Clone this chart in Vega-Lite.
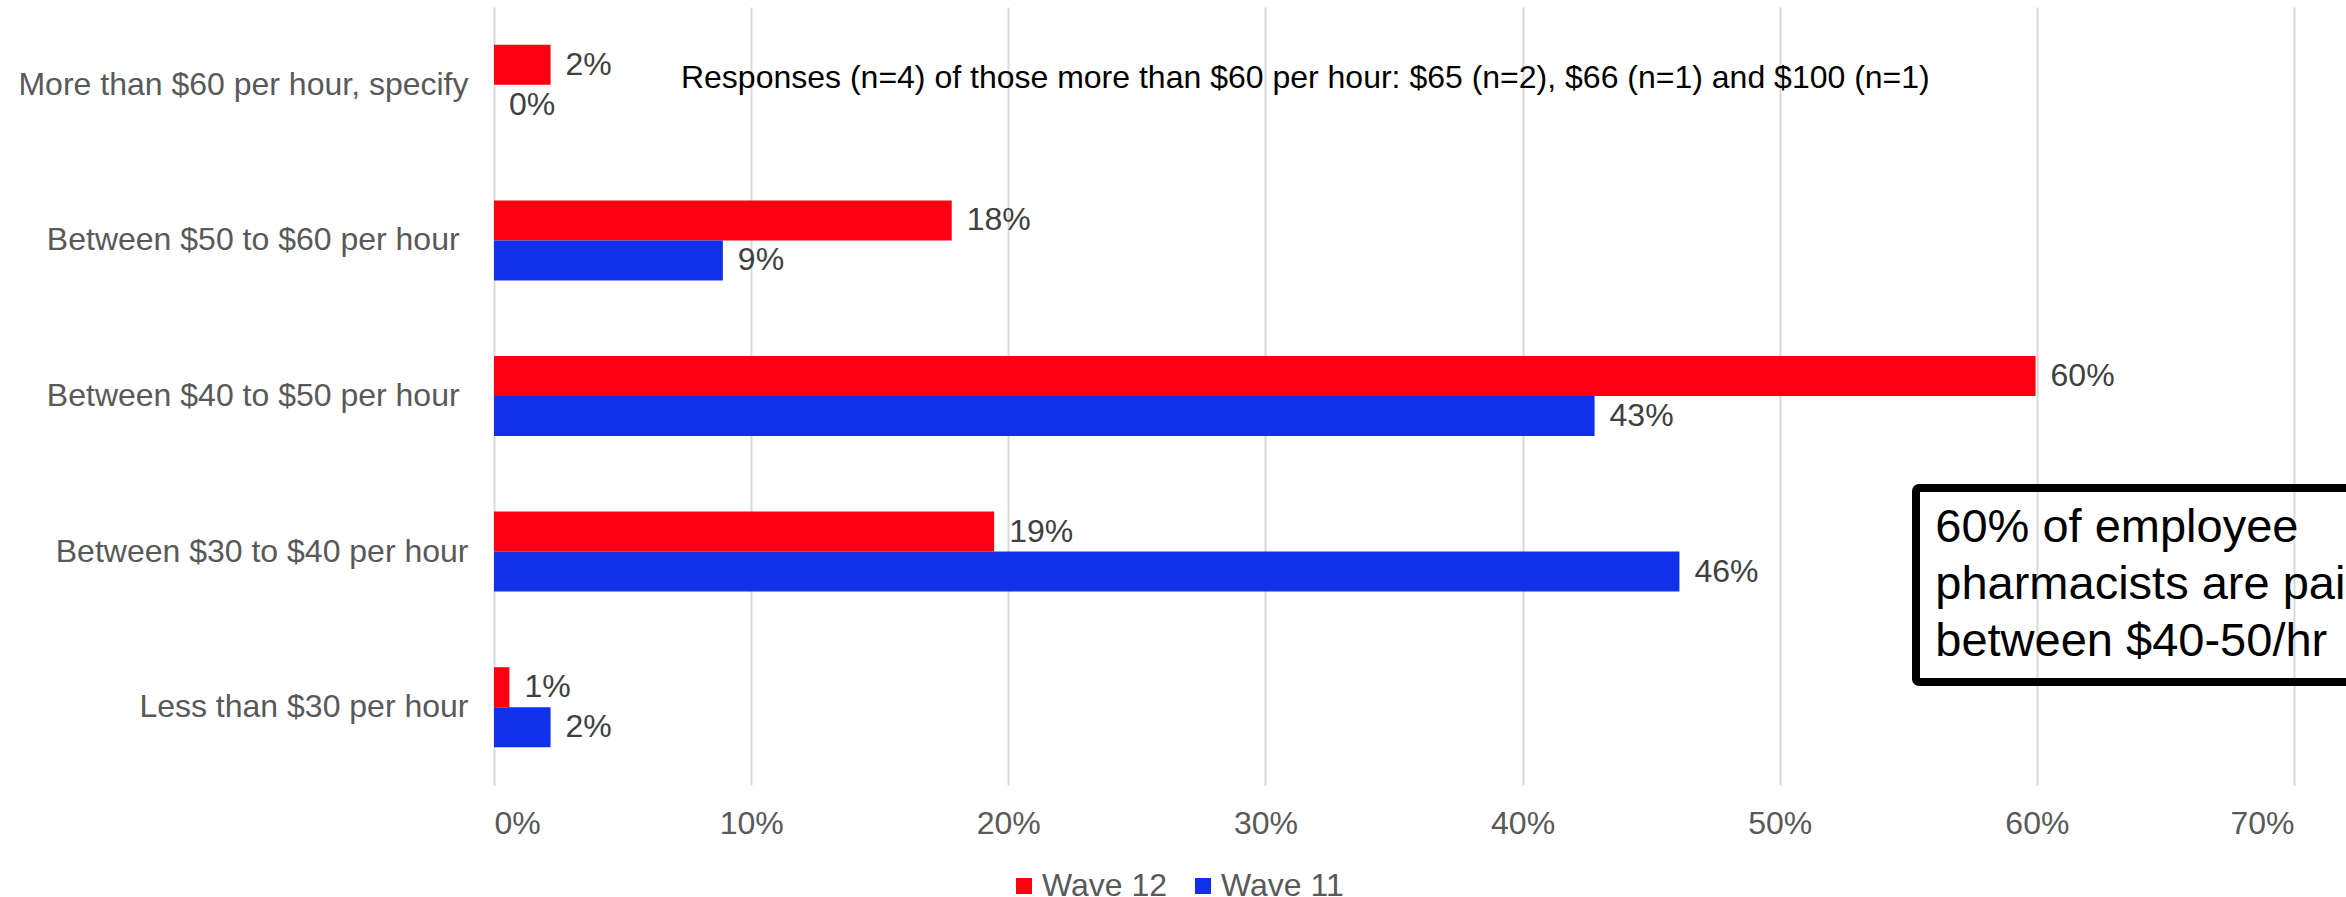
{
  "$schema": "https://vega.github.io/schema/vega-lite/v6.json",
  "width": 1800,
  "height": 778,
  "autosize": {"type": "none"},
  "padding": {"left": 494, "top": 7, "right": 52, "bottom": 112},
  "background": "white",
  "config": {"font": "Liberation Sans", "view": {"stroke": null}},
  "layer": [
    {
      "data": {
        "values": [
          {"category": "More than $60 per hour, specify", "wave": "Wave 12", "pct": 0.022},
          {"category": "More than $60 per hour, specify", "wave": "Wave 11", "pct": 0.0},
          {"category": "Between $50 to $60 per hour\u00a0\u200b", "wave": "Wave 12", "pct": 0.178},
          {"category": "Between $50 to $60 per hour\u00a0\u200b", "wave": "Wave 11", "pct": 0.089},
          {"category": "Between $40 to $50 per hour\u00a0\u200b", "wave": "Wave 12", "pct": 0.5995},
          {"category": "Between $40 to $50 per hour\u00a0\u200b", "wave": "Wave 11", "pct": 0.428},
          {"category": "Between $30 to $40 per hour", "wave": "Wave 12", "pct": 0.1945},
          {"category": "Between $30 to $40 per hour", "wave": "Wave 11", "pct": 0.461},
          {"category": "Less than $30 per hour", "wave": "Wave 12", "pct": 0.006},
          {"category": "Less than $30 per hour", "wave": "Wave 11", "pct": 0.022}
        ]
      },
      "encoding": {
        "y": {
          "field": "category",
          "type": "nominal",
          "sort": [
            "More than $60 per hour, specify",
            "Between $50 to $60 per hour\u00a0\u200b",
            "Between $40 to $50 per hour\u00a0\u200b",
            "Between $30 to $40 per hour",
            "Less than $30 per hour"
          ],
          "scale": {"paddingInner": 0.486, "paddingOuter": 0.243},
          "axis": {
            "title": null,
            "ticks": false,
            "domain": false,
            "labelFontSize": 32,
            "labelColor": "#595959",
            "labelPadding": 26,
            "labelLimit": 0
          }
        },
        "yOffset": {
          "field": "wave",
          "type": "nominal",
          "sort": ["Wave 12", "Wave 11"],
          "scale": {"paddingInner": 0, "paddingOuter": 0}
        },
        "x": {
          "field": "pct",
          "type": "quantitative",
          "scale": {"domain": [0, 0.7], "nice": false},
          "axis": {
            "title": null,
            "format": ".0%",
            "values": [0, 0.1, 0.2, 0.3, 0.4, 0.5, 0.6, 0.7],
            "grid": true,
            "gridColor": "#D9D9D9",
            "gridWidth": 2,
            "ticks": false,
            "domain": false,
            "labelFontSize": 32,
            "labelColor": "#595959",
            "labelPadding": 23
          }
        }
      },
      "layer": [
        {
          "mark": {"type": "bar"},
          "encoding": {
            "color": {
              "field": "wave",
              "type": "nominal",
              "scale": {"domain": ["Wave 12", "Wave 11"], "range": ["#FC0011", "#1030EA"]},
              "legend": {
                "orient": "none",
                "legendX": 514,
                "legendY": 863,
                "direction": "horizontal",
                "title": null,
                "symbolType": "square",
                "symbolSize": 256,
                "symbolStrokeWidth": 0,
                "labelFontSize": 32,
                "labelColor": "#595959",
                "columnPadding": 19,
                "labelOffset": 2,
                "padding": 0
              }
            }
          }
        },
        {
          "mark": {"type": "text", "align": "left", "baseline": "middle", "dx": 15, "fontSize": 32, "color": "#404040"},
          "encoding": {"text": {"field": "pct", "type": "quantitative", "format": ".0%"}}
        }
      ]
    },
    {
      "data": {"values": [{"note": "Responses (n=4) of those more than $60 per hour: $65 (n=2), $66 (n=1) and $100 (n=1)", "box": "60% of employee\npharmacists are paid\nbetween $40-50/hr"}]},
      "layer": [
        {
          "mark": {"type": "rect", "fill": null, "stroke": "black", "strokeWidth": 8, "cornerRadius": 3},
          "encoding": {
            "x": {"datum": 0.553, "type": "quantitative", "scale": {"domain": [0, 0.7], "nice": false}},
            "x2": {"datum": 0.95},
            "y": {"datum": 1.909, "type": "quantitative", "scale": {"domain": [0, 5], "nice": false, "zero": true}, "axis": null},
            "y2": {"datum": 0.662}
          }
        },
        {
          "mark": {"type": "text", "align": "left", "baseline": "alphabetic", "fontSize": 32, "color": "black"},
          "encoding": {
            "text": {"field": "note"},
            "x": {"datum": 0.0727, "type": "quantitative"},
            "y": {"datum": 4.48, "type": "quantitative"}
          }
        },
        {
          "mark": {"type": "text", "align": "left", "baseline": "alphabetic", "fontSize": 47, "lineHeight": 57, "lineBreak": "\n", "color": "black"},
          "encoding": {
            "text": {"field": "box"},
            "x": {"datum": 0.5605, "type": "quantitative"},
            "y": {"datum": 1.564, "type": "quantitative"}
          }
        }
      ]
    }
  ],
  "resolve": {"scale": {"y": "independent"}}
}
